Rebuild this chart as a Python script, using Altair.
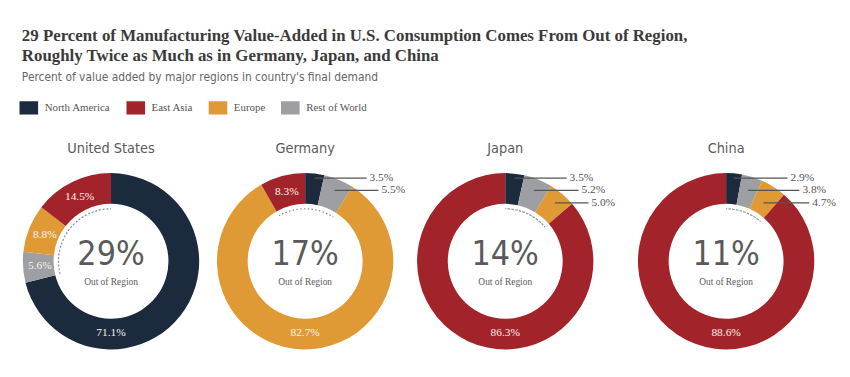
import math
import altair as alt
import pandas as pd

# ---------------- data ----------------
countries = ["United States", "Germany", "Japan", "China"]
regions = ["North America", "East Asia", "Europe", "Rest of World"]
# clockwise order of slices, starting at 12 o'clock
ring_order = ["North America", "Rest of World", "Europe", "East Asia"]
north_america = [71.1, 3.5, 3.5, 2.9]
east_asia = [14.5, 8.3, 86.3, 88.6]
europe = [8.8, 82.7, 5.0, 4.7]
rest_of_world = [5.6, 5.5, 5.2, 3.8]
out_of_region = [29, 17, 14, 11]
home_region = ["North America", "Europe", "East Asia", "East Asia"]
outside_labels = {
    "United States": [],
    "Germany": ["North America", "Rest of World"],
    "Japan": ["North America", "Rest of World", "Europe"],
    "China": ["North America", "Rest of World", "Europe"],
}
colors = ["#1c2a3e", "#a3232a", "#e09a35", "#9d9fa2"]

# ---------------- layout ----------------
panel_w = [180, 212, 192, 224]
panel_h = 190
R_OUT, R_IN, R_LAB, R_DOT = 89, 58, 72, 53
leader_end = [62, 74, 84]

SERIF = "Liberation Serif, Times New Roman, serif"
NARROW = "Liberation Sans Narrow, DejaVu Sans Condensed, Arial Narrow, sans-serif"

values = {
    "North America": north_america,
    "East Asia": east_asia,
    "Europe": europe,
    "Rest of World": rest_of_world,
}


def panel(ci):
    country = countries[ci]
    W = panel_w[ci]
    rows = []
    cum = 0.0
    for k, reg in enumerate(ring_order):
        v = values[reg][ci]
        mid = (cum + v / 2) / 100 * 2 * math.pi
        rows.append(dict(region=reg, value=v, k=k, start=cum, mid=mid))
        cum += v
    df = pd.DataFrame(rows)

    xs = alt.Scale(domain=[-W / 2, W / 2], nice=False, zero=False)
    ys = alt.Scale(domain=[-panel_h / 2, panel_h / 2], nice=False, zero=False)
    X = lambda f: alt.X(f, scale=xs, axis=None)
    Y = lambda f: alt.Y(f, scale=ys, axis=None)

    arcs = alt.Chart(df).mark_arc(outerRadius=R_OUT, innerRadius=R_IN).encode(
        theta=alt.Theta("value:Q", stack=True),
        order=alt.Order("k:Q"),
        color=alt.Color(
            "region:N",
            scale=alt.Scale(domain=regions, range=colors),
            legend=alt.Legend(title=None),
        ),
    )

    # dotted arc spanning the out-of-region share
    home = home_region[ci]
    hrow = df[df.region == home].iloc[0]
    t0 = (hrow.start + hrow.value) / 100 * 2 * math.pi
    t1 = (hrow.start + 100) / 100 * 2 * math.pi
    dot_df = pd.DataFrame([dict(t0=t0, t1=t1)])
    dots = alt.Chart(dot_df).mark_arc(
        outerRadius=R_DOT, innerRadius=R_DOT, fill=None, stroke="#7d8b99",
        strokeWidth=1.2, strokeDash=[1.2, 2.6]
    ).encode(theta=alt.Theta("t0:Q", scale=None), theta2="t1:Q")

    ins = []
    outs = []
    for _, r in df.iterrows():
        lab = f"{r.value:.1f}%"
        if r.region in outside_labels[country]:
            i = outside_labels[country].index(r.region)
            ly = R_OUT - 5 - 12.5 * i
            x0 = ly * math.tan(r.mid)
            outs.append(dict(label=lab, ly=ly, x0=x0, x1=leader_end[i], tx=leader_end[i] + 3))
        else:
            a = math.pi if r.region == home else r.mid
            ins.append(dict(label=lab, px=R_LAB * math.sin(a), py=R_LAB * math.cos(a)))
    ins_df = pd.DataFrame(ins)
    inside = alt.Chart(ins_df).mark_text(
        font=SERIF, fontSize=11.5, color="#f7f1ec", baseline="middle", align="center"
    ).encode(x=X("px:Q"), y=Y("py:Q"), text="label:N")

    center_df = pd.DataFrame([dict(big=f"{out_of_region[ci]}%", sub="Out of Region", bx=0, by=6, sy=-21)])
    big = alt.Chart(center_df).mark_text(
        font=NARROW, fontSize=34, fontWeight=300, color="#5a5a5a", baseline="middle"
    ).encode(x=X("bx:Q"), y=Y("by:Q"), text="big:N")
    sub = alt.Chart(center_df).mark_text(
        font=SERIF, fontSize=9.5, color="#5a5a5a", baseline="middle"
    ).encode(x=X("bx:Q"), y=Y("sy:Q"), text="sub:N")

    layers = [arcs, dots, inside, big, sub]
    if outs:
        out_df = pd.DataFrame(outs)
        rules = alt.Chart(out_df).mark_rule(color="#555555", strokeWidth=1.2).encode(
            x=X("x0:Q"), x2="x1:Q", y=Y("ly:Q")
        )
        otext = alt.Chart(out_df).mark_text(
            font=SERIF, fontSize=11.5, color="#555555", align="left", baseline="middle"
        ).encode(x=X("tx:Q"), y=Y("ly:Q"), text="label:N")
        layers += [rules, otext]

    return alt.layer(*layers).properties(
        width=W,
        height=panel_h,
        title=alt.TitleParams(
            text=country, font=NARROW, fontSize=14.5, fontWeight="normal",
            color="#5a5a5a", anchor="middle", offset=11,
        ),
    )


chart = alt.hconcat(*[panel(i) for i in range(4)], spacing=0).resolve_scale(
    x="independent", y="independent", color="shared"
).properties(
    title=alt.TitleParams(
        text=[
            "29 Percent of Manufacturing Value-Added in U.S. Consumption Comes From Out of Region,",
            "Roughly Twice as Much as in Germany, Japan, and China",
        ],
        subtitle="Percent of value added by major regions in country's final demand",
        anchor="start",
        font=SERIF,
        fontSize=17,
        fontWeight="bold",
        color="#3a3a3a",
        lineHeight=20,
        subtitleFont=NARROW,
        subtitleFontSize=12,
        subtitleColor="#666666",
        subtitlePadding=7,
        offset=17,
    ),
    padding={"left": 14, "top": 18, "right": 5, "bottom": 5},
).configure_view(stroke=None).configure_legend(
    orient="top",
    direction="horizontal",
    symbolType="M-1.4,-1H1.4V1H-1.4Z",
    symbolSize=180,
    symbolStrokeWidth=0,
    labelFont=SERIF,
    labelFontSize=11,
    labelColor="#555555",
    labelOffset=9,
    columnPadding=15,
    offset=26,
)

chart.save("out.html", embed_options={"renderer": "svg", "actions": False})
